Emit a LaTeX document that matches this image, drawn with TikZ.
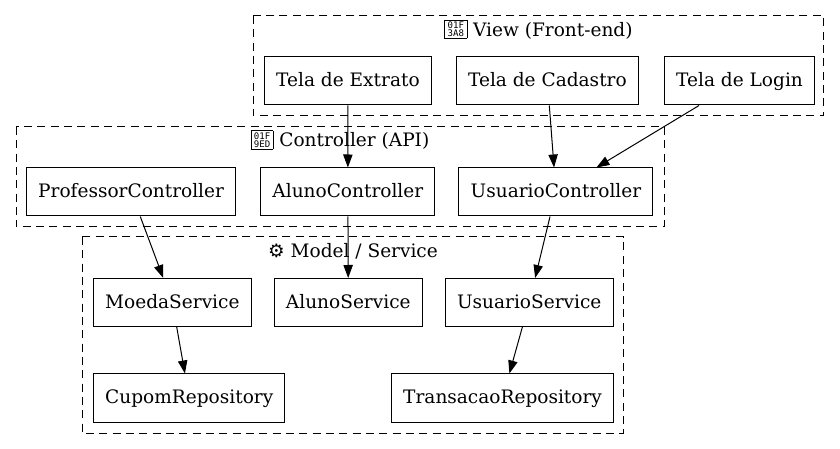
\documentclass[tikz,border=0pt]{standalone}
\usepackage{fontspec}
\setmainfont{DejaVu Serif}
\newfontfamily\gearfont{DejaVu Sans}
\newfontfamily\hexfont{DejaVu Sans Mono}
\usetikzlibrary{positioning, arrows.meta}
% glyph box for a character the font lacks
\newcommand{\tofu}[2]{\raisebox{-0.2pt}{\fboxsep=.9pt\fboxrule=.5pt\fbox{\vbox{\offinterlineskip\hexfont\fontsize{6.8}{6.8}\selectfont\hbox{\kern1pt #1\kern1pt}\vskip1pt\hbox{\kern1pt #2\kern1pt}}}}}
\begin{document}
\begin{tikzpicture}[
    x=0.75pt, y=-0.75pt,
    font=\fontsize{13.9}{16}\selectfont,
    % Styles
    comp/.style={ % Component box
        draw,
        line width=0.75pt,
        minimum height=36pt,
        inner xsep=8.8pt,
        inner ysep=0pt,
        text height=11.1pt,
        text depth=2.4pt
    },
    arrow/.style={
        -{Triangle[length=9.75pt,width=7pt]},
        line width=0.75pt
    },
    cluster/.style={ % Dashed layer frame
        draw,
        line width=0.75pt,
        dash pattern=on 6pt off 4pt
    },
    title/.style={anchor=base, inner sep=0pt},
    node distance=18pt
]
    \useasboundingbox[fill=white] (0,0) rectangle (840,449);

    % Layer frames
    \draw[cluster] (253,16) rectangle (823.5,116);
    \draw[cluster] (16,127) rectangle (664,227);
    \draw[cluster] (82,237) rectangle (623.5,433);
    \node[title] (viewtitle) at (538.5,36.5) {\tofu{01F}{3A8} View (Front-end)};
    \node[title] (controllertitle) at (340,147) {\tofu{01F}{9ED} Controller (API)};
    \node[title] (modeltitle) at (353,258) {{\gearfont ⚙} Model / Service};

    % View
    \node[comp, anchor=west] (extrato) at (264,81) {Tela de Extrato};
    \node[comp] (cadastro) [right=18pt of extrato] {Tela de Cadastro};
    \node[comp] (login) [right=18.75pt of cadastro] {Tela de Login};

    % Controller
    \node[comp, anchor=west] (professorc) at (26,192) {ProfessorController};
    \node[comp] (alunoc) [right=18pt of professorc] {AlunoController};
    \node[comp] (usuarioc) [right=17.25pt of alunoc] {UsuarioController};

    % Model / Service
    \node[comp, anchor=west] (moedas) at (93,302.5) {MoedaService};
    \node[comp] (alunos) [right=16.5pt of moedas] {AlunoService};
    \node[comp] (usuarios) [right=16.5pt of alunos] {UsuarioService};
    \node[comp, anchor=west] (cupomr) at (93,398) {CupomRepository};
    \node[comp, anchor=west] (transacaor) at (391,398) {TransacaoRepository};

    % Edges
    \draw[arrow] (extrato) -- (alunoc);
    \draw[arrow] (cadastro) -- (usuarioc);
    \draw[arrow] (login) -- (usuarioc);
    \draw[arrow] (professorc) -- (moedas);
    \draw[arrow] (alunoc) -- (alunos);
    \draw[arrow] (usuarioc) -- (usuarios);
    \draw[arrow] (moedas) -- (cupomr);
    \draw[arrow] (usuarios) -- (transacaor);
\end{tikzpicture}
\end{document}
